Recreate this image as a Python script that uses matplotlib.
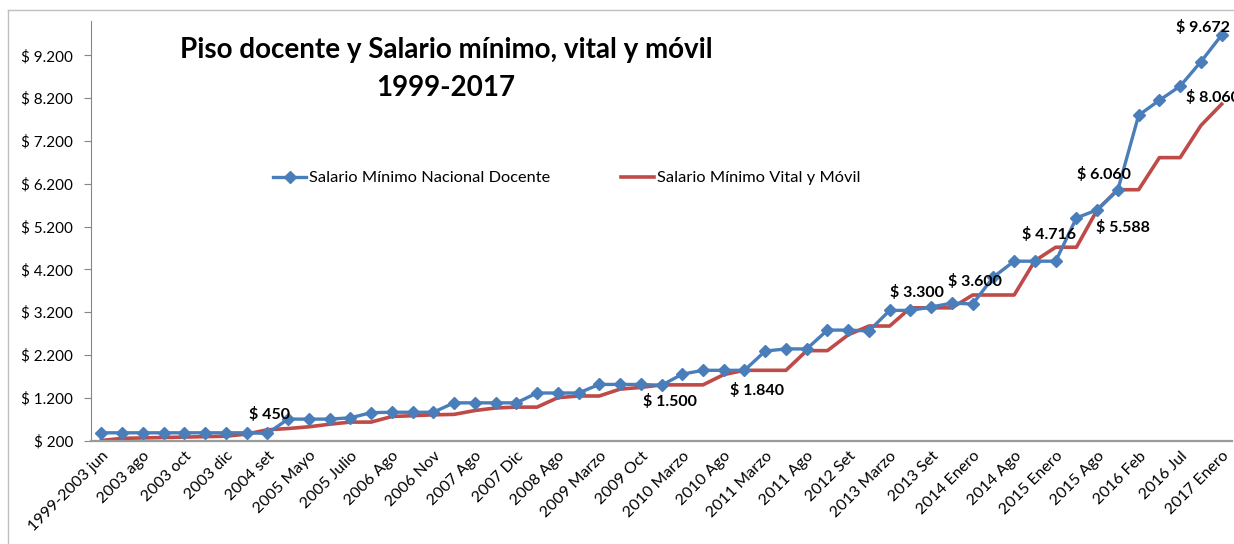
import matplotlib
matplotlib.use("Agg")
import matplotlib.pyplot as plt
from matplotlib.lines import Line2D

plt.rcParams['font.family'] = ['Lato', 'DejaVu Sans']

# tick labels shown every other point
tick_labels = ['1999-2003 jun', '2003 ago', '2003 oct', '2003 dic', '2004 set',
               '2005 Mayo', '2005 Julio', '2006 Ago', '2006 Nov', '2007 Ago',
               '2007 Dic', '2008 Ago', '2009 Marzo', '2009 Oct', '2010 Marzo',
               '2010 Ago', '2011 Marzo', '2011 Ago', '2012 Set', '2013 Marzo',
               '2013 Set', '2014 Enero', '2014 Ago', '2015 Enero', '2015 Ago',
               '2016 Feb', '2016 Jul', '2017 Enero']

# Salario Minimo Nacional Docente
docente = [380, 380, 380, 380, 380, 380, 380, 380, 365, 700,
           700, 700, 730, 850, 860, 860, 860, 1080, 1080, 1080,
           1080, 1310, 1310, 1310, 1510, 1510, 1510, 1490, 1750, 1840,
           1840, 1840, 2290, 2340, 2340, 2780, 2780, 2760, 3240, 3240,
           3320, 3410, 3390, 4020, 4390, 4390, 4390, 5400, 5590, 6060,
           7800, 8150, 8480, 9050, 9672]

# Salario Minimo Vital y Movil
smvm = [200, 250, 260, 270, 280, 290, 300, 350, 450, 480,
        520, 580, 630, 630, 760, 780, 800, 810, 900, 960,
        980, 980, 1200, 1240, 1240, 1400, 1440, 1500, 1500, 1500,
        1740, 1840, 1840, 1840, 2300, 2300, 2670, 2875, 2875, 3300,
        3300, 3300, 3600, 3600, 3600, 4400, 4716, 4716, 5588, 6060,
        6060, 6810, 6810, 7560, 8060]

# (label, index, series, offset px)
notes = [('$ 450', 8, 'r', (2, 15)),
         ('$ 1.500', 27, 'r', (8, -17)),
         ('$ 1.840', 32, 'r', (-8, -20)),
         ('$ 3.300', 40, 'r', (-14, 15)),
         ('$ 3.600', 42, 'r', (2, 13)),
         ('$ 4.716', 46, 'r', (-7, 13)),
         ('$ 5.588', 48, 'r', (26, -18)),
         ('$ 6.060', 49, 'r', (-14, 15)),
         ('$ 9.672', 54, 'b', (-19, 8)),
         ('$ 8.060', 54, 'r', (-9, 7))]

blue = '#4a7ebb'
red = '#be4b48'

fig = plt.figure(figsize=(12.34, 5.44), dpi=100)
ax = fig.add_axes([91 / 1234, (544 - 440.5) / 544, 1141 / 1234, 419.4 / 544])

x = list(range(len(docente)))
ax.plot(x, docente, color=blue, lw=2.4, marker='D', ms=6, zorder=3,
        label='Salario Mínimo Nacional Docente')
ax.plot(x, smvm, color=red, lw=2.6, zorder=2,
        label='Salario Mínimo Vital y Móvil')

ax.set_xlim(-0.5, len(x) - 0.5)
ax.set_ylim(200, 10000)

yt = list(range(200, 9201, 1000))
ax.set_yticks(yt)
ax.set_yticklabels(['$ ' + f'{v:,}'.replace(',', '.') for v in yt], fontsize=11)
ax.set_xticks(x[::2])
ax.set_xticklabels(tick_labels, rotation=45, ha='right', va='top',
                   rotation_mode='anchor', fontsize=11.5)
ax.tick_params(axis='x', length=0, pad=6)
ax.tick_params(axis='y', length=5, color='#868686', pad=8)

for s in ['top', 'right']:
    ax.spines[s].set_visible(False)
ax.spines['left'].set_color('#868686')
ax.spines['bottom'].set_color('#9a9a9a')
ax.spines['bottom'].set_linewidth(1.6)

for txt, i, ser, (dx, dy) in notes:
    v = docente[i] if ser == 'b' else smvm[i]
    ax.annotate(txt, (i, v), xytext=(dx * 0.72, dy * 0.72), textcoords='offset points',
                ha='center', va='center', fontsize=11.5, fontweight='bold',
                annotation_clip=False, zorder=5)

fig.text(446 / 1234, 1 - 50 / 544, 'Piso docente y Salario mínimo, vital y móvil',
         ha='center', va='center', fontsize=20, fontweight='bold')
fig.text(446 / 1234, 1 - 88 / 544, '1999-2017',
         ha='center', va='center', fontsize=20, fontweight='bold')

handles = [Line2D([], [], color=blue, lw=2.4, marker='D', ms=6),
           Line2D([], [], color=red, lw=2.6)]
fig.legend(handles, ['Salario Mínimo Nacional Docente', 'Salario Mínimo Vital y Móvil'],
           loc='center', bbox_to_anchor=(567 / 1234, 1 - 178 / 544), ncol=2,
           frameon=False, fontsize=11.8, handlelength=2.0, columnspacing=4.3,
           handletextpad=0.2)

# chart border
fig.add_artist(Line2D([8 / 1234, 8 / 1234], [0, 1 - 10 / 544], color='#bfbfbf', lw=1))
fig.add_artist(Line2D([8 / 1234, 1], [1 - 10 / 544, 1 - 10 / 544], color='#bfbfbf', lw=1))

fig.savefig('out.png', dpi=100)
